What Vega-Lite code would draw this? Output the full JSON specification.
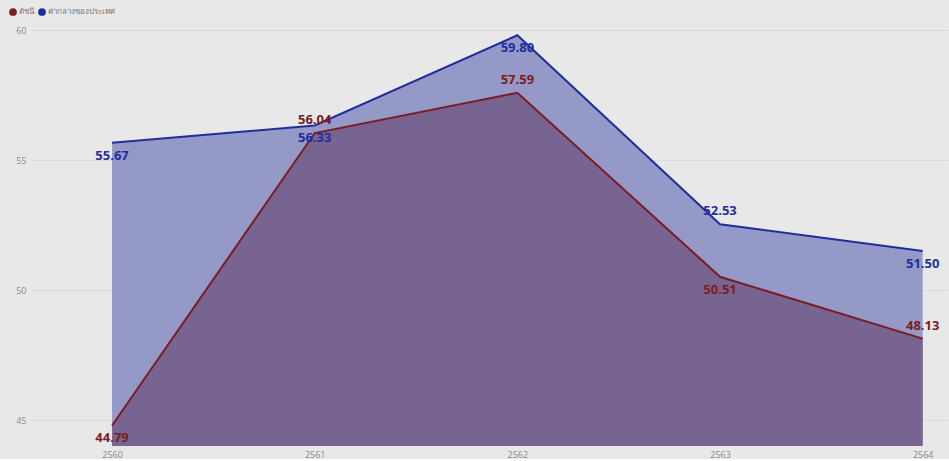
{
  "$schema": "https://vega.github.io/schema/vega-lite/v6.json",
  "background": "#e8e8e8",
  "width": 916,
  "height": 425,
  "padding": {"left": 9, "top": 8, "right": 3, "bottom": 0},
  "config": {
    "view": {"stroke": null},
    "font": "Open Sans"
  },
  "data": {
    "values": [
      {"year": 2560, "series": "ค่ากลางของประเทศ", "value": 55.67},
      {"year": 2561, "series": "ค่ากลางของประเทศ", "value": 56.33},
      {"year": 2562, "series": "ค่ากลางของประเทศ", "value": 59.80},
      {"year": 2563, "series": "ค่ากลางของประเทศ", "value": 52.53},
      {"year": 2564, "series": "ค่ากลางของประเทศ", "value": 51.50},
      {"year": 2560, "series": "ดัชนี", "value": 44.79},
      {"year": 2561, "series": "ดัชนี", "value": 56.04},
      {"year": 2562, "series": "ดัชนี", "value": 57.59},
      {"year": 2563, "series": "ดัชนี", "value": 50.51},
      {"year": 2564, "series": "ดัชนี", "value": 48.13}
    ]
  },
  "encoding": {
    "x": {
      "field": "year", "type": "quantitative",
      "scale": {"domain": [2559.6, 2564.12], "nice": false, "zero": false},
      "axis": {"values": [2560, 2561, 2562, 2563, 2564], "format": "d", "title": null, "grid": false, "domain": false, "ticks": false, "labelFontSize": 9, "labelColor": "#8a8a8a", "labelPadding": 4}
    },
    "y": {
      "field": "value", "type": "quantitative",
      "scale": {"domain": [44, 60.35], "nice": false, "zero": false},
      "axis": {"values": [45, 50, 55, 60], "title": null, "domain": false, "ticks": false, "labelFontSize": 9, "labelColor": "#8a8a8a", "labelPadding": 5, "gridColor": "#dadada", "gridWidth": 1, "labelBaseline": "middle"}
    }
  },
  "layer": [
    {
      "transform": [{"filter": "datum.series === 'ค่ากลางของประเทศ'"}],
      "mark": {"type": "area", "color": "#9599c8", "clip": true},
      "encoding": {"y2": {"datum": 44}}
    },
    {
      "transform": [{"filter": "datum.series === 'ดัชนี'"}],
      "mark": {"type": "area", "color": "#776490", "clip": true},
      "encoding": {"y2": {"datum": 44}}
    },
    {
      "mark": {"type": "line", "strokeWidth": 2},
      "encoding": {
        "color": {
          "field": "series", "type": "nominal",
          "scale": {"domain": ["ดัชนี", "ค่ากลางของประเทศ"], "range": ["#7b1c22", "#1f2e9c"]},
          "legend": {
            "orient": "none", "legendX": -22, "legendY": -13, "direction": "horizontal",
            "title": null, "symbolType": "circle", "symbolFillOpacity": 1, "symbolSize": 60,
            "labelFontSize": 8, "labelColor": "#777777", "columnPadding": 4, "symbolStrokeWidth": 0, "labelOffset": 2
          }
        }
      }
    },
    {
      "transform": [{"filter": "(datum.series === 'ดัชนี' && (datum.year === 2561 || datum.year === 2562 || datum.year === 2564)) || (datum.series === 'ค่ากลางของประเทศ' && datum.year === 2563)"}],
      "mark": {"type": "text", "fontWeight": "bold", "fontSize": 13, "dy": -13},
      "encoding": {
        "text": {"field": "value", "type": "quantitative", "format": ".2f"},
        "color": {"field": "series", "type": "nominal", "legend": null}
      }
    },
    {
      "transform": [{"filter": "!((datum.series === 'ดัชนี' && (datum.year === 2561 || datum.year === 2562 || datum.year === 2564)) || (datum.series === 'ค่ากลางของประเทศ' && datum.year === 2563))"}],
      "mark": {"type": "text", "fontWeight": "bold", "fontSize": 13, "dy": 13},
      "encoding": {
        "text": {"field": "value", "type": "quantitative", "format": ".2f"},
        "color": {"field": "series", "type": "nominal", "legend": null}
      }
    }
  ]
}
